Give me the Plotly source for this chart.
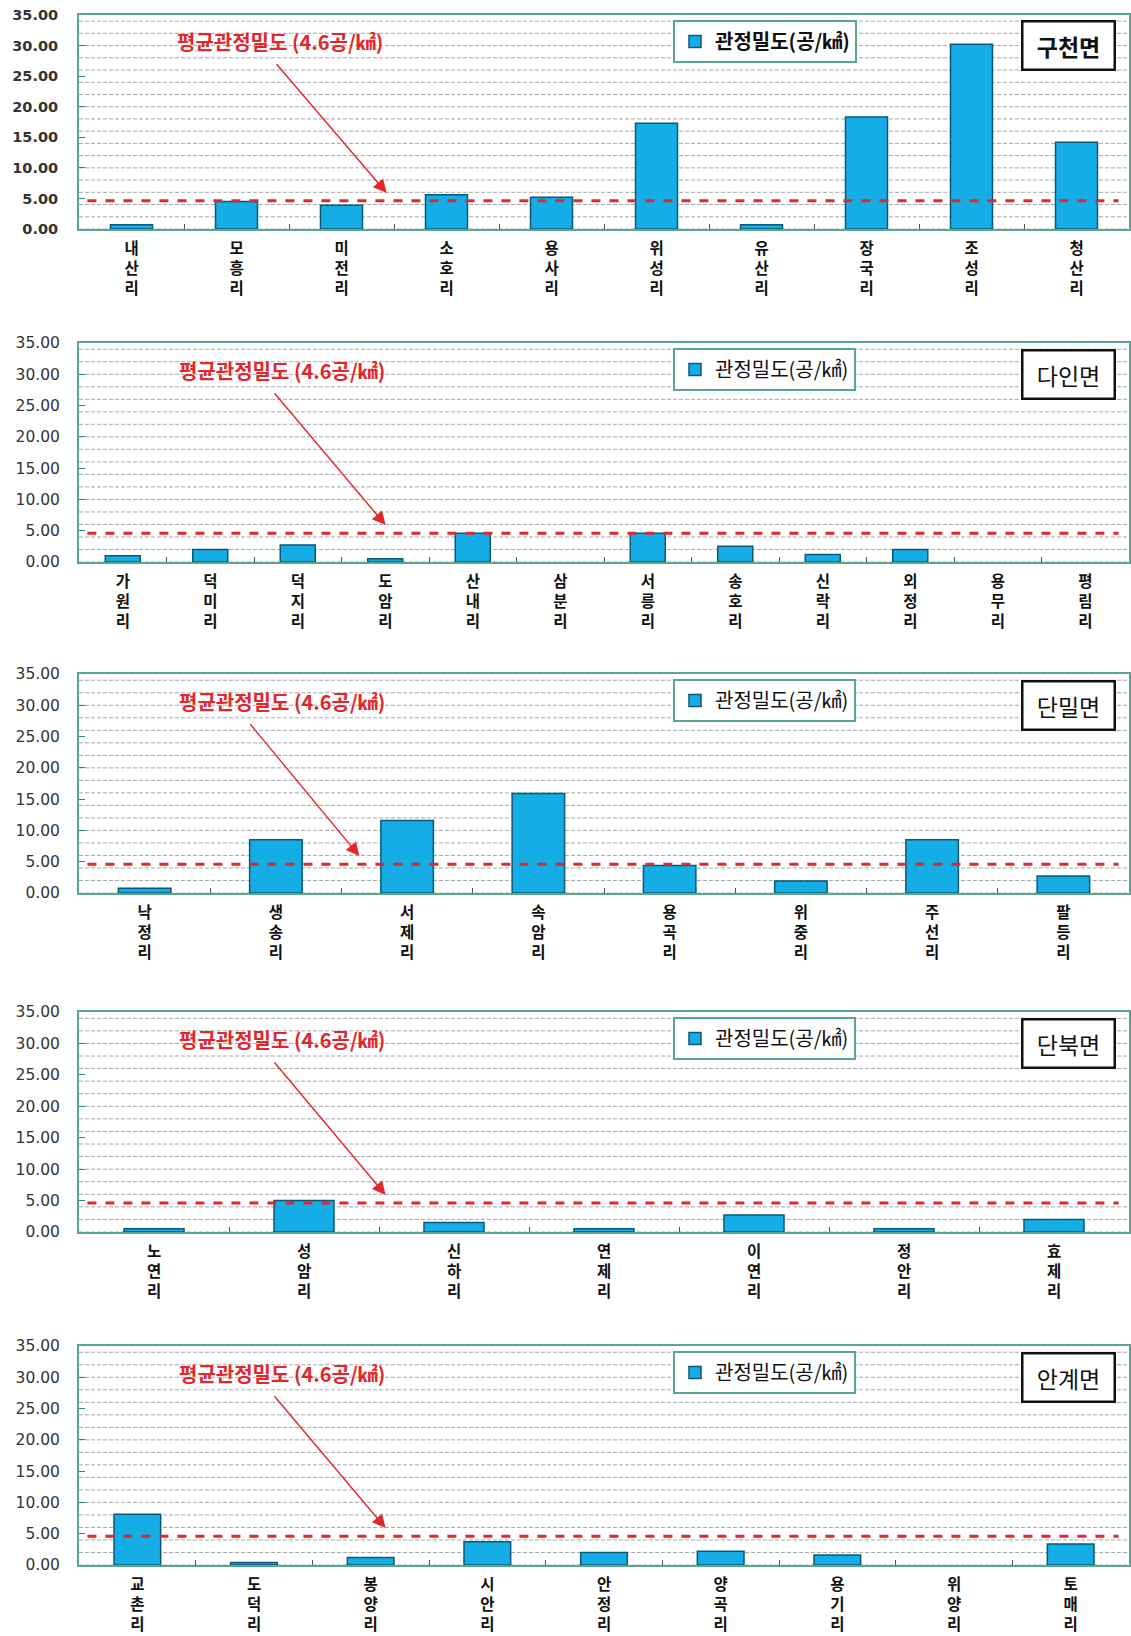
import plotly.graph_objects as go

# ---------------- data ----------------
AVG = 4.6
SERIES_NAME = "관정밀도(공/㎢)"
AVG_LABEL = "평균관정밀도 (4.6공/㎢)"

myeon_names = ["구천면", "다인면", "단밀면", "단북면", "안계면"]

gucheon_villages = ["내산리", "모흥리", "미전리", "소호리", "용사리", "위성리", "유산리", "장국리", "조성리", "청산리"]
gucheon_values = [0.7, 4.5, 3.9, 5.6, 5.2, 17.3, 0.7, 18.3, 30.2, 14.2]

dain_villages = ["가원리", "덕미리", "덕지리", "도암리", "산내리", "삼분리", "서릉리", "송호리", "신락리", "외정리", "용무리", "평림리"]
dain_values = [1.0, 2.0, 2.7, 0.5, 4.6, 0.0, 4.6, 2.5, 1.2, 2.0, 0.0, 0.0]

danmil_villages = ["낙정리", "생송리", "서제리", "속암리", "용곡리", "위중리", "주선리", "팔등리"]
danmil_values = [0.75, 8.5, 11.6, 15.9, 4.4, 1.9, 8.5, 2.7]

danbuk_villages = ["노연리", "성암리", "신하리", "연제리", "이연리", "정안리", "효제리"]
danbuk_values = [0.5, 5.0, 1.5, 0.5, 2.7, 0.5, 2.0]

angye_villages = ["교촌리", "도덕리", "봉양리", "시안리", "안정리", "양곡리", "용기리", "위양리", "토매리"]
angye_values = [8.1, 0.4, 1.2, 3.7, 2.0, 2.2, 1.6, 0.0, 3.35]

y_tick_values = [0, 5, 10, 15, 20, 25, 30, 35]
grid_values = list(range(0, 35, 2))

panels = [
    (gucheon_villages, gucheon_values),
    (dain_villages, dain_values),
    (danmil_villages, danmil_values),
    (danbuk_villages, danbuk_values),
    (angye_villages, angye_values),
]

# ---------------- layout helpers ----------------
W, H = 1131, 1636
panel_px = [(15, 229), (343, 562), (674, 893), (1012, 1232), (1346, 1565)]
x_dom = [79 / W, 1129 / W]
arrow_x = [(0.187, 0.293), (0.185, 0.292), (0.162, 0.267), (0.185, 0.292), (0.185, 0.292)]
text_x = [0.191, 0.193, 0.193, 0.193, 0.193]

FRAME = "#5aa88c"
BAR = "#14ADE6"
BAR_EDGE = "#0b5877"
RED = "#e3262b"
KFONT = "Noto Sans CJK KR"

fig = go.Figure()
layout = dict(
    width=W, height=H,
    margin=dict(l=0, r=0, t=0, b=0, autoexpand=False),
    paper_bgcolor="white", plot_bgcolor="white",
    bargap=0.6, showlegend=True,
    annotations=[], shapes=[],
)

for i, ((cats, vals), name) in enumerate(zip(panels, myeon_names)):
    n = i + 1
    sfx = "" if n == 1 else str(n)
    xa, ya = "x" + sfx, "y" + sfx
    leg = "legend" + sfx
    first = n == 1
    bold = "bold" if first else "normal"
    top, bot = panel_px[i]
    y_dom = [1 - bot / H, 1 - top / H]

    ticktext = ["<br>".join(list(c)) for c in cats]
    edge_widths = [0 if v == 0 else 1.5 for v in vals]

    fig.add_trace(go.Bar(
        x=cats, y=vals, name=SERIES_NAME,
        xaxis=xa, yaxis=ya, legend=leg,
        marker=dict(color=BAR, line=dict(color=BAR_EDGE, width=edge_widths)),
        hoverinfo="x+y",
    ))

    layout["xaxis" + sfx] = dict(
        domain=x_dom, anchor=ya, type="category", automargin=False,
        tickmode="array", tickvals=cats, ticktext=ticktext,
        tickfont=dict(family=KFONT, size=15.5, color="#111", weight="bold"),
        showline=True, linecolor=FRAME, linewidth=2, mirror=True,
        ticks="inside", tickson="boundaries", ticklen=5, tickcolor="#555",
        ticklabelstandoff=4, showgrid=False, fixedrange=True,
    )
    layout["yaxis" + sfx] = dict(
        domain=y_dom, anchor=xa, range=[0, 35], automargin=False,
        tickmode="array", tickvals=y_tick_values, tickformat=".2f",
        tickfont=dict(family="DejaVu Sans", size=14.5 if first else 15.5,
                      color="#333", weight=bold),
        showline=True, linecolor=FRAME, linewidth=2, mirror=True,
        ticks="inside", ticklen=6, tickcolor="#3d7f68",
        ticklabelstandoff=16 if first else 14,
        showgrid=False, zeroline=False, fixedrange=True,
    )
    layout[leg] = dict(
        x=673 / W, xanchor="left", y=y_dom[1] - 5 / H, yanchor="top",
        bgcolor="white", bordercolor=FRAME, borderwidth=2,
        font=dict(family=KFONT, size=20, color="#111", weight=bold),
        itemwidth=30,
    )

    for g in grid_values:
        layout["shapes"].append(dict(
            type="line", xref=xa + " domain", yref=ya, x0=0, x1=1, y0=g, y1=g,
            line=dict(color="#a8a8a8", width=1, dash="4px,2px"), layer="below",
        ))
    layout["shapes"].append(dict(
        type="line", xref=xa + " domain", yref=ya, x0=0.008, x1=0.99, y0=AVG, y1=AVG,
        line=dict(color=RED, width=3, dash="dash"), layer="above",
    ))

    layout["annotations"].append(dict(
        xref=xa + " domain", yref=ya, x=text_x[i], y=30.6, text=AVG_LABEL,
        xanchor="center", yanchor="middle",
        showarrow=False, font=dict(family=KFONT, size=20, color=RED, weight="bold"),
    ))
    ax_tail, ax_head = arrow_x[i]
    layout["annotations"].append(dict(
        xref=xa + " domain", yref=ya, x=ax_head, y=5.9,
        axref=xa + " domain", ayref=ya, ax=ax_tail, ay=27.2,
        text="", showarrow=True, arrowhead=2, arrowsize=1.9, arrowwidth=1.4,
        arrowcolor=RED,
    ))
    layout["annotations"].append(dict(
        xref=xa + " domain", yref=ya + " domain", x=(1068 - 79) / 1050, y=0.858,
        xanchor="center", yanchor="middle",
        text=name, showarrow=False,
        font=dict(family=KFONT, size=23, color="#111", weight=bold),
        bgcolor="white", bordercolor="#111", borderwidth=2.5, borderpad=1,
        width=88, height=44,
    ))

fig.update_layout(**layout)
fig.write_html("out.html", config={"displayModeBar": False},
               post_script="document.body.style.margin='0px';")
